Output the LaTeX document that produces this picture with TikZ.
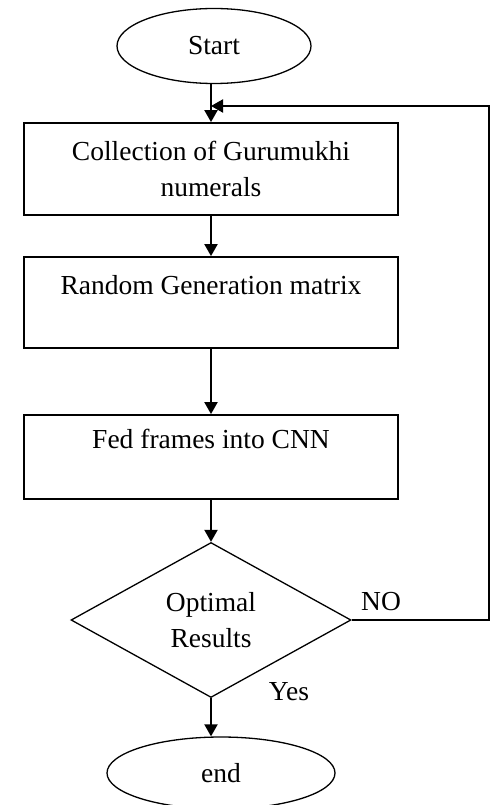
\documentclass[tikz,border=0pt]{standalone}
\usepackage{fontspec}
\setmainfont{Liberation Serif}
\usepackage{tikz}
\usetikzlibrary{shapes,arrows.meta,calc}

\begin{document}
\begin{tikzpicture}[
			x = 1pt, y = -1pt,
			every node/.style = {font = \fontsize{27.5}{36}\selectfont, align = center, inner sep = 0pt},
			term/.style = {ellipse, draw, line width = 1.3pt},
			procbox/.style = {rectangle, draw, line width = 1.8pt, minimum width = 374pt},
			decide/.style = {diamond, draw, line width = 1.3pt, aspect = 1.8, minimum width = 280pt, minimum height = 155pt},
			flow/.style = {line width = 2pt, -{Triangle[length = 12pt, width = 13pt]}},
			]

			\useasboundingbox (0,0) rectangle (492,805);

			% terminals
			\node (start) [term, minimum width = 194pt, minimum height = 75pt] at (214,46) {Start};
			\node (fin) [term, minimum width = 228pt, minimum height = 72pt] at (221,773) {end};

			% steps
			\node (collect) [procbox, minimum height = 92pt] at (211,169) {Collection of Gurumukhi\\numerals};
			\node (randgen) [procbox, minimum height = 91pt] at (211,302.5) {Random Generation matrix\\\mbox{}};
			\node (feedcnn) [procbox, minimum height = 84pt] at (211,457) {Fed frames into CNN\\\mbox{}};

			\node (check) [decide] at (211,620) {Optimal\\Results};
			\node (no) at (381,602) {NO};
			\node (yes) at (289,692) {Yes};

			\draw[flow] (start.south -| collect.north) -- (collect.north);
			\draw[flow] (collect) -- (randgen);
			\draw[flow] (randgen) -- (feedcnn);
			\draw[flow] (feedcnn) -- (check);
			\draw[flow] (check.south) -- (check.south |- fin.north);

			% loop back when the result is not good enough
			\coordinate (back) at (489,106);
			\draw[flow] (check.east) -| (back) -- (back -| collect.north);

		\end{tikzpicture}
\end{document}
